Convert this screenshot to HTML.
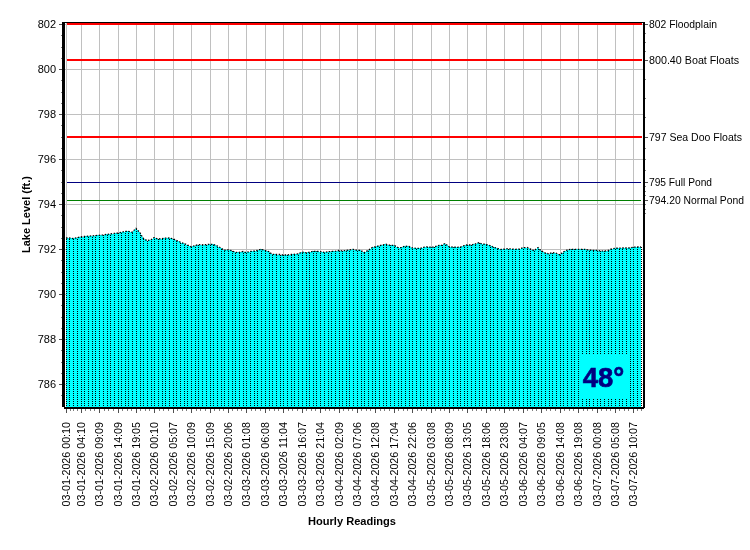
<!DOCTYPE html><html><head><meta charset="utf-8"><title>Lake Level</title>
<style>html,body{margin:0;padding:0;background:#fff}svg{display:block}text{font-family:"Liberation Sans",Arial,sans-serif;font-size:11px;fill:#000}.b{font-weight:bold}</style></head><body>
<svg width="750" height="550" viewBox="0 0 750 550">
<rect width="750" height="550" fill="#fff"/>
<g fill="#c0c0c0" shape-rendering="crispEdges"><rect x="65" y="24" width="578" height="1"/><rect x="65" y="69" width="578" height="1"/><rect x="65" y="114" width="578" height="1"/><rect x="65" y="159" width="578" height="1"/><rect x="65" y="204" width="578" height="1"/><rect x="65" y="249" width="578" height="1"/><rect x="65" y="294" width="578" height="1"/><rect x="65" y="339" width="578" height="1"/><rect x="65" y="384" width="578" height="1"/><rect x="66" y="23" width="1" height="384"/><rect x="81" y="23" width="1" height="384"/><rect x="99" y="23" width="1" height="384"/><rect x="118" y="23" width="1" height="384"/><rect x="136" y="23" width="1" height="384"/><rect x="154" y="23" width="1" height="384"/><rect x="173" y="23" width="1" height="384"/><rect x="191" y="23" width="1" height="384"/><rect x="210" y="23" width="1" height="384"/><rect x="228" y="23" width="1" height="384"/><rect x="246" y="23" width="1" height="384"/><rect x="265" y="23" width="1" height="384"/><rect x="283" y="23" width="1" height="384"/><rect x="302" y="23" width="1" height="384"/><rect x="320" y="23" width="1" height="384"/><rect x="339" y="23" width="1" height="384"/><rect x="357" y="23" width="1" height="384"/><rect x="375" y="23" width="1" height="384"/><rect x="394" y="23" width="1" height="384"/><rect x="412" y="23" width="1" height="384"/><rect x="431" y="23" width="1" height="384"/><rect x="449" y="23" width="1" height="384"/><rect x="467" y="23" width="1" height="384"/><rect x="486" y="23" width="1" height="384"/><rect x="504" y="23" width="1" height="384"/><rect x="523" y="23" width="1" height="384"/><rect x="541" y="23" width="1" height="384"/><rect x="560" y="23" width="1" height="384"/><rect x="578" y="23" width="1" height="384"/><rect x="597" y="23" width="1" height="384"/><rect x="615" y="23" width="1" height="384"/><rect x="633" y="23" width="1" height="384"/></g>
<clipPath id="ac"><polygon points="66,407 66,238.0 69,238.0 73,238.6 77,237.7 81,236.8 84,236.5 88,236.2 92,235.9 95,235.6 99,235.3 103,234.9 107,234.4 110,234.0 114,233.5 118,233.1 121,232.3 125,231.5 128,231.3 132,232.2 136,228.4 140,232.8 143,238.1 147,240.7 151,239.7 154,237.6 158,239.0 162,238.6 165,238.2 169,238.0 173,238.8 176,240.3 180,242.0 184,243.6 187,244.8 191,246.7 195,245.7 198,244.6 202,244.8 206,244.7 210,244.3 213,244.3 217,245.8 221,248.1 224,250.2 228,249.8 232,250.7 235,252.3 239,252.4 243,251.5 246,252.6 250,251.5 254,251.1 257,250.5 261,249.3 265,250.4 269,251.7 272,254.3 276,254.5 280,254.5 283,255.0 287,255.0 291,254.5 294,254.3 298,253.9 302,252.1 306,252.7 309,252.3 313,251.3 316,251.3 320,251.6 324,252.4 328,251.7 331,251.5 335,251.3 339,250.5 342,250.8 346,250.5 349,249.9 353,249.3 357,250.4 361,250.4 364,252.7 368,250.5 372,247.7 375,246.8 379,245.9 383,244.8 386,244.2 390,245.3 394,245.3 398,247.6 401,247.7 405,246.2 409,246.5 412,247.8 416,248.4 420,248.5 423,247.4 427,246.8 431,247.3 434,247.0 438,245.6 442,245.3 445,243.5 449,246.7 453,247.2 457,247.3 460,247.1 464,245.7 467,245.0 471,245.0 475,244.1 479,242.6 482,244.1 486,244.3 490,245.6 493,247.0 497,248.3 501,249.5 504,249.2 508,248.7 512,249.1 515,249.3 519,249.2 523,247.7 527,247.5 530,248.8 534,250.7 538,247.6 541,250.7 545,253.0 549,253.9 552,252.6 556,253.2 560,254.9 563,252.1 567,250.0 571,249.3 574,249.3 578,249.3 582,249.3 586,249.5 589,250.2 593,250.3 597,250.3 600,250.8 604,251.1 608,250.5 611,249.1 615,248.3 619,248.2 622,248.0 626,248.0 630,248.0 633,247.2 637,247.0 641,247.0 642,247.0 642,407"/></clipPath>
<polygon points="66,407 66,238.0 69,238.0 73,238.6 77,237.7 81,236.8 84,236.5 88,236.2 92,235.9 95,235.6 99,235.3 103,234.9 107,234.4 110,234.0 114,233.5 118,233.1 121,232.3 125,231.5 128,231.3 132,232.2 136,228.4 140,232.8 143,238.1 147,240.7 151,239.7 154,237.6 158,239.0 162,238.6 165,238.2 169,238.0 173,238.8 176,240.3 180,242.0 184,243.6 187,244.8 191,246.7 195,245.7 198,244.6 202,244.8 206,244.7 210,244.3 213,244.3 217,245.8 221,248.1 224,250.2 228,249.8 232,250.7 235,252.3 239,252.4 243,251.5 246,252.6 250,251.5 254,251.1 257,250.5 261,249.3 265,250.4 269,251.7 272,254.3 276,254.5 280,254.5 283,255.0 287,255.0 291,254.5 294,254.3 298,253.9 302,252.1 306,252.7 309,252.3 313,251.3 316,251.3 320,251.6 324,252.4 328,251.7 331,251.5 335,251.3 339,250.5 342,250.8 346,250.5 349,249.9 353,249.3 357,250.4 361,250.4 364,252.7 368,250.5 372,247.7 375,246.8 379,245.9 383,244.8 386,244.2 390,245.3 394,245.3 398,247.6 401,247.7 405,246.2 409,246.5 412,247.8 416,248.4 420,248.5 423,247.4 427,246.8 431,247.3 434,247.0 438,245.6 442,245.3 445,243.5 449,246.7 453,247.2 457,247.3 460,247.1 464,245.7 467,245.0 471,245.0 475,244.1 479,242.6 482,244.1 486,244.3 490,245.6 493,247.0 497,248.3 501,249.5 504,249.2 508,248.7 512,249.1 515,249.3 519,249.2 523,247.7 527,247.5 530,248.8 534,250.7 538,247.6 541,250.7 545,253.0 549,253.9 552,252.6 556,253.2 560,254.9 563,252.1 567,250.0 571,249.3 574,249.3 578,249.3 582,249.3 586,249.5 589,250.2 593,250.3 597,250.3 600,250.8 604,251.1 608,250.5 611,249.1 615,248.3 619,248.2 622,248.0 626,248.0 630,248.0 633,247.2 637,247.0 641,247.0 641,407" fill="#00ffff" shape-rendering="crispEdges"/>
<g clip-path="url(#ac)" stroke="#000" stroke-width="1" stroke-dasharray="1 1" shape-rendering="crispEdges"><line x1="66.5" y1="23" x2="66.5" y2="407"/><line x1="69.5" y1="23" x2="69.5" y2="407"/><line x1="73.5" y1="23" x2="73.5" y2="407"/><line x1="77.5" y1="23" x2="77.5" y2="407"/><line x1="81.5" y1="23" x2="81.5" y2="407"/><line x1="84.5" y1="23" x2="84.5" y2="407"/><line x1="88.5" y1="23" x2="88.5" y2="407"/><line x1="92.5" y1="23" x2="92.5" y2="407"/><line x1="95.5" y1="23" x2="95.5" y2="407"/><line x1="99.5" y1="23" x2="99.5" y2="407"/><line x1="103.5" y1="23" x2="103.5" y2="407"/><line x1="107.5" y1="23" x2="107.5" y2="407"/><line x1="110.5" y1="23" x2="110.5" y2="407"/><line x1="114.5" y1="23" x2="114.5" y2="407"/><line x1="118.5" y1="23" x2="118.5" y2="407"/><line x1="121.5" y1="23" x2="121.5" y2="407"/><line x1="125.5" y1="23" x2="125.5" y2="407"/><line x1="128.5" y1="23" x2="128.5" y2="407"/><line x1="132.5" y1="23" x2="132.5" y2="407"/><line x1="136.5" y1="23" x2="136.5" y2="407"/><line x1="140.5" y1="23" x2="140.5" y2="407"/><line x1="143.5" y1="23" x2="143.5" y2="407"/><line x1="147.5" y1="23" x2="147.5" y2="407"/><line x1="151.5" y1="23" x2="151.5" y2="407"/><line x1="154.5" y1="23" x2="154.5" y2="407"/><line x1="158.5" y1="23" x2="158.5" y2="407"/><line x1="162.5" y1="23" x2="162.5" y2="407"/><line x1="165.5" y1="23" x2="165.5" y2="407"/><line x1="169.5" y1="23" x2="169.5" y2="407"/><line x1="173.5" y1="23" x2="173.5" y2="407"/><line x1="176.5" y1="23" x2="176.5" y2="407"/><line x1="180.5" y1="23" x2="180.5" y2="407"/><line x1="184.5" y1="23" x2="184.5" y2="407"/><line x1="187.5" y1="23" x2="187.5" y2="407"/><line x1="191.5" y1="23" x2="191.5" y2="407"/><line x1="195.5" y1="23" x2="195.5" y2="407"/><line x1="198.5" y1="23" x2="198.5" y2="407"/><line x1="202.5" y1="23" x2="202.5" y2="407"/><line x1="206.5" y1="23" x2="206.5" y2="407"/><line x1="210.5" y1="23" x2="210.5" y2="407"/><line x1="213.5" y1="23" x2="213.5" y2="407"/><line x1="217.5" y1="23" x2="217.5" y2="407"/><line x1="221.5" y1="23" x2="221.5" y2="407"/><line x1="224.5" y1="23" x2="224.5" y2="407"/><line x1="228.5" y1="23" x2="228.5" y2="407"/><line x1="232.5" y1="23" x2="232.5" y2="407"/><line x1="235.5" y1="23" x2="235.5" y2="407"/><line x1="239.5" y1="23" x2="239.5" y2="407"/><line x1="243.5" y1="23" x2="243.5" y2="407"/><line x1="246.5" y1="23" x2="246.5" y2="407"/><line x1="250.5" y1="23" x2="250.5" y2="407"/><line x1="254.5" y1="23" x2="254.5" y2="407"/><line x1="257.5" y1="23" x2="257.5" y2="407"/><line x1="261.5" y1="23" x2="261.5" y2="407"/><line x1="265.5" y1="23" x2="265.5" y2="407"/><line x1="269.5" y1="23" x2="269.5" y2="407"/><line x1="272.5" y1="23" x2="272.5" y2="407"/><line x1="276.5" y1="23" x2="276.5" y2="407"/><line x1="280.5" y1="23" x2="280.5" y2="407"/><line x1="283.5" y1="23" x2="283.5" y2="407"/><line x1="287.5" y1="23" x2="287.5" y2="407"/><line x1="291.5" y1="23" x2="291.5" y2="407"/><line x1="294.5" y1="23" x2="294.5" y2="407"/><line x1="298.5" y1="23" x2="298.5" y2="407"/><line x1="302.5" y1="23" x2="302.5" y2="407"/><line x1="306.5" y1="23" x2="306.5" y2="407"/><line x1="309.5" y1="23" x2="309.5" y2="407"/><line x1="313.5" y1="23" x2="313.5" y2="407"/><line x1="316.5" y1="23" x2="316.5" y2="407"/><line x1="320.5" y1="23" x2="320.5" y2="407"/><line x1="324.5" y1="23" x2="324.5" y2="407"/><line x1="328.5" y1="23" x2="328.5" y2="407"/><line x1="331.5" y1="23" x2="331.5" y2="407"/><line x1="335.5" y1="23" x2="335.5" y2="407"/><line x1="339.5" y1="23" x2="339.5" y2="407"/><line x1="342.5" y1="23" x2="342.5" y2="407"/><line x1="346.5" y1="23" x2="346.5" y2="407"/><line x1="349.5" y1="23" x2="349.5" y2="407"/><line x1="353.5" y1="23" x2="353.5" y2="407"/><line x1="357.5" y1="23" x2="357.5" y2="407"/><line x1="361.5" y1="23" x2="361.5" y2="407"/><line x1="364.5" y1="23" x2="364.5" y2="407"/><line x1="368.5" y1="23" x2="368.5" y2="407"/><line x1="372.5" y1="23" x2="372.5" y2="407"/><line x1="375.5" y1="23" x2="375.5" y2="407"/><line x1="379.5" y1="23" x2="379.5" y2="407"/><line x1="383.5" y1="23" x2="383.5" y2="407"/><line x1="386.5" y1="23" x2="386.5" y2="407"/><line x1="390.5" y1="23" x2="390.5" y2="407"/><line x1="394.5" y1="23" x2="394.5" y2="407"/><line x1="398.5" y1="23" x2="398.5" y2="407"/><line x1="401.5" y1="23" x2="401.5" y2="407"/><line x1="405.5" y1="23" x2="405.5" y2="407"/><line x1="409.5" y1="23" x2="409.5" y2="407"/><line x1="412.5" y1="23" x2="412.5" y2="407"/><line x1="416.5" y1="23" x2="416.5" y2="407"/><line x1="420.5" y1="23" x2="420.5" y2="407"/><line x1="423.5" y1="23" x2="423.5" y2="407"/><line x1="427.5" y1="23" x2="427.5" y2="407"/><line x1="431.5" y1="23" x2="431.5" y2="407"/><line x1="434.5" y1="23" x2="434.5" y2="407"/><line x1="438.5" y1="23" x2="438.5" y2="407"/><line x1="442.5" y1="23" x2="442.5" y2="407"/><line x1="445.5" y1="23" x2="445.5" y2="407"/><line x1="449.5" y1="23" x2="449.5" y2="407"/><line x1="453.5" y1="23" x2="453.5" y2="407"/><line x1="457.5" y1="23" x2="457.5" y2="407"/><line x1="460.5" y1="23" x2="460.5" y2="407"/><line x1="464.5" y1="23" x2="464.5" y2="407"/><line x1="467.5" y1="23" x2="467.5" y2="407"/><line x1="471.5" y1="23" x2="471.5" y2="407"/><line x1="475.5" y1="23" x2="475.5" y2="407"/><line x1="479.5" y1="23" x2="479.5" y2="407"/><line x1="482.5" y1="23" x2="482.5" y2="407"/><line x1="486.5" y1="23" x2="486.5" y2="407"/><line x1="490.5" y1="23" x2="490.5" y2="407"/><line x1="493.5" y1="23" x2="493.5" y2="407"/><line x1="497.5" y1="23" x2="497.5" y2="407"/><line x1="501.5" y1="23" x2="501.5" y2="407"/><line x1="504.5" y1="23" x2="504.5" y2="407"/><line x1="508.5" y1="23" x2="508.5" y2="407"/><line x1="512.5" y1="23" x2="512.5" y2="407"/><line x1="515.5" y1="23" x2="515.5" y2="407"/><line x1="519.5" y1="23" x2="519.5" y2="407"/><line x1="523.5" y1="23" x2="523.5" y2="407"/><line x1="527.5" y1="23" x2="527.5" y2="407"/><line x1="530.5" y1="23" x2="530.5" y2="407"/><line x1="534.5" y1="23" x2="534.5" y2="407"/><line x1="538.5" y1="23" x2="538.5" y2="407"/><line x1="541.5" y1="23" x2="541.5" y2="407"/><line x1="545.5" y1="23" x2="545.5" y2="407"/><line x1="549.5" y1="23" x2="549.5" y2="407"/><line x1="552.5" y1="23" x2="552.5" y2="407"/><line x1="556.5" y1="23" x2="556.5" y2="407"/><line x1="560.5" y1="23" x2="560.5" y2="407"/><line x1="563.5" y1="23" x2="563.5" y2="407"/><line x1="567.5" y1="23" x2="567.5" y2="407"/><line x1="571.5" y1="23" x2="571.5" y2="407"/><line x1="574.5" y1="23" x2="574.5" y2="407"/><line x1="578.5" y1="23" x2="578.5" y2="407"/><line x1="582.5" y1="23" x2="582.5" y2="407"/><line x1="586.5" y1="23" x2="586.5" y2="407"/><line x1="589.5" y1="23" x2="589.5" y2="407"/><line x1="593.5" y1="23" x2="593.5" y2="407"/><line x1="597.5" y1="23" x2="597.5" y2="407"/><line x1="600.5" y1="23" x2="600.5" y2="407"/><line x1="604.5" y1="23" x2="604.5" y2="407"/><line x1="608.5" y1="23" x2="608.5" y2="407"/><line x1="611.5" y1="23" x2="611.5" y2="407"/><line x1="615.5" y1="23" x2="615.5" y2="407"/><line x1="619.5" y1="23" x2="619.5" y2="407"/><line x1="622.5" y1="23" x2="622.5" y2="407"/><line x1="626.5" y1="23" x2="626.5" y2="407"/><line x1="630.5" y1="23" x2="630.5" y2="407"/><line x1="633.5" y1="23" x2="633.5" y2="407"/><line x1="637.5" y1="23" x2="637.5" y2="407"/><line x1="641.5" y1="23" x2="641.5" y2="407"/></g>
<polyline points="66,238.0 69,238.0 73,238.6 77,237.7 81,236.8 84,236.5 88,236.2 92,235.9 95,235.6 99,235.3 103,234.9 107,234.4 110,234.0 114,233.5 118,233.1 121,232.3 125,231.5 128,231.3 132,232.2 136,228.4 140,232.8 143,238.1 147,240.7 151,239.7 154,237.6 158,239.0 162,238.6 165,238.2 169,238.0 173,238.8 176,240.3 180,242.0 184,243.6 187,244.8 191,246.7 195,245.7 198,244.6 202,244.8 206,244.7 210,244.3 213,244.3 217,245.8 221,248.1 224,250.2 228,249.8 232,250.7 235,252.3 239,252.4 243,251.5 246,252.6 250,251.5 254,251.1 257,250.5 261,249.3 265,250.4 269,251.7 272,254.3 276,254.5 280,254.5 283,255.0 287,255.0 291,254.5 294,254.3 298,253.9 302,252.1 306,252.7 309,252.3 313,251.3 316,251.3 320,251.6 324,252.4 328,251.7 331,251.5 335,251.3 339,250.5 342,250.8 346,250.5 349,249.9 353,249.3 357,250.4 361,250.4 364,252.7 368,250.5 372,247.7 375,246.8 379,245.9 383,244.8 386,244.2 390,245.3 394,245.3 398,247.6 401,247.7 405,246.2 409,246.5 412,247.8 416,248.4 420,248.5 423,247.4 427,246.8 431,247.3 434,247.0 438,245.6 442,245.3 445,243.5 449,246.7 453,247.2 457,247.3 460,247.1 464,245.7 467,245.0 471,245.0 475,244.1 479,242.6 482,244.1 486,244.3 490,245.6 493,247.0 497,248.3 501,249.5 504,249.2 508,248.7 512,249.1 515,249.3 519,249.2 523,247.7 527,247.5 530,248.8 534,250.7 538,247.6 541,250.7 545,253.0 549,253.9 552,252.6 556,253.2 560,254.9 563,252.1 567,250.0 571,249.3 574,249.3 578,249.3 582,249.3 586,249.5 589,250.2 593,250.3 597,250.3 600,250.8 604,251.1 608,250.5 611,249.1 615,248.3 619,248.2 622,248.0 626,248.0 630,248.0 633,247.2 637,247.0 641,247.0" fill="none" stroke="#000" stroke-width="1.3" stroke-dasharray="1.5 1.5"/>
<g shape-rendering="crispEdges"><rect x="67" y="23" width="575" height="2" fill="#f00"/><rect x="67" y="59" width="575" height="2" fill="#f00"/><rect x="67" y="136" width="575" height="2" fill="#f00"/><rect x="67" y="182" width="574" height="1" fill="#000080"/><rect x="67" y="200" width="574" height="1" fill="#008000"/></g>
<rect x="580" y="354" width="50" height="44" fill="#00ffff" shape-rendering="crispEdges"/>
<text x="582.7" y="386.6" class="b" style="font-size:27.5px;fill:#000080;stroke:#000080;stroke-width:.6" textLength="41.6" lengthAdjust="spacingAndGlyphs">48°</text>
<g fill="#000" shape-rendering="crispEdges"><rect x="62" y="22" width="3" height="385"/><rect x="62" y="22" width="583" height="1"/><rect x="643" y="22" width="2" height="386"/><rect x="64" y="407" width="580" height="2"/></g>
<g fill="#505050" shape-rendering="crispEdges"><rect x="59" y="24" width="3" height="1"/><rect x="59" y="69" width="3" height="1"/><rect x="59" y="114" width="3" height="1"/><rect x="59" y="159" width="3" height="1"/><rect x="59" y="204" width="3" height="1"/><rect x="59" y="249" width="3" height="1"/><rect x="59" y="294" width="3" height="1"/><rect x="59" y="339" width="3" height="1"/><rect x="59" y="384" width="3" height="1"/><rect x="645" y="24" width="3" height="1"/><rect x="645" y="60" width="3" height="1"/><rect x="645" y="137" width="3" height="1"/><rect x="645" y="182" width="3" height="1"/><rect x="645" y="200" width="3" height="1"/><rect x="66" y="409" width="1" height="4"/><rect x="81" y="409" width="1" height="4"/><rect x="99" y="409" width="1" height="4"/><rect x="118" y="409" width="1" height="4"/><rect x="136" y="409" width="1" height="4"/><rect x="154" y="409" width="1" height="4"/><rect x="173" y="409" width="1" height="4"/><rect x="191" y="409" width="1" height="4"/><rect x="210" y="409" width="1" height="4"/><rect x="228" y="409" width="1" height="4"/><rect x="246" y="409" width="1" height="4"/><rect x="265" y="409" width="1" height="4"/><rect x="283" y="409" width="1" height="4"/><rect x="302" y="409" width="1" height="4"/><rect x="320" y="409" width="1" height="4"/><rect x="339" y="409" width="1" height="4"/><rect x="357" y="409" width="1" height="4"/><rect x="375" y="409" width="1" height="4"/><rect x="394" y="409" width="1" height="4"/><rect x="412" y="409" width="1" height="4"/><rect x="431" y="409" width="1" height="4"/><rect x="449" y="409" width="1" height="4"/><rect x="467" y="409" width="1" height="4"/><rect x="486" y="409" width="1" height="4"/><rect x="504" y="409" width="1" height="4"/><rect x="523" y="409" width="1" height="4"/><rect x="541" y="409" width="1" height="4"/><rect x="560" y="409" width="1" height="4"/><rect x="578" y="409" width="1" height="4"/><rect x="597" y="409" width="1" height="4"/><rect x="615" y="409" width="1" height="4"/><rect x="633" y="409" width="1" height="4"/></g>
<g fill="#808080" shape-rendering="crispEdges"><rect x="61" y="35" width="1" height="1"/><rect x="61" y="47" width="1" height="1"/><rect x="61" y="58" width="1" height="1"/><rect x="61" y="80" width="1" height="1"/><rect x="61" y="92" width="1" height="1"/><rect x="61" y="103" width="1" height="1"/><rect x="61" y="125" width="1" height="1"/><rect x="61" y="137" width="1" height="1"/><rect x="61" y="148" width="1" height="1"/><rect x="61" y="170" width="1" height="1"/><rect x="61" y="182" width="1" height="1"/><rect x="61" y="193" width="1" height="1"/><rect x="61" y="215" width="1" height="1"/><rect x="61" y="227" width="1" height="1"/><rect x="61" y="238" width="1" height="1"/><rect x="61" y="260" width="1" height="1"/><rect x="61" y="272" width="1" height="1"/><rect x="61" y="283" width="1" height="1"/><rect x="61" y="305" width="1" height="1"/><rect x="61" y="317" width="1" height="1"/><rect x="61" y="328" width="1" height="1"/><rect x="61" y="350" width="1" height="1"/><rect x="61" y="362" width="1" height="1"/><rect x="61" y="373" width="1" height="1"/><rect x="61" y="395" width="1" height="1"/><rect x="645" y="33" width="1" height="1"/><rect x="645" y="42" width="1" height="1"/><rect x="645" y="51" width="1" height="1"/><rect x="645" y="79" width="1" height="1"/><rect x="645" y="98" width="1" height="1"/><rect x="645" y="117" width="1" height="1"/><rect x="645" y="148" width="1" height="1"/><rect x="645" y="159" width="1" height="1"/><rect x="645" y="170" width="1" height="1"/><rect x="645" y="186" width="1" height="1"/><rect x="645" y="191" width="1" height="1"/><rect x="645" y="195" width="1" height="1"/><rect x="645" y="204" width="1" height="1"/><rect x="645" y="209" width="1" height="1"/><rect x="645" y="213" width="1" height="1"/><rect x="70" y="409" width="1" height="2"/><rect x="73" y="409" width="1" height="2"/><rect x="77" y="409" width="1" height="2"/><rect x="85" y="409" width="1" height="2"/><rect x="90" y="409" width="1" height="2"/><rect x="94" y="409" width="1" height="2"/><rect x="104" y="409" width="1" height="2"/><rect x="108" y="409" width="1" height="2"/><rect x="113" y="409" width="1" height="2"/><rect x="122" y="409" width="1" height="2"/><rect x="127" y="409" width="1" height="2"/><rect x="131" y="409" width="1" height="2"/><rect x="140" y="409" width="1" height="2"/><rect x="145" y="409" width="1" height="2"/><rect x="149" y="409" width="1" height="2"/><rect x="159" y="409" width="1" height="2"/><rect x="163" y="409" width="1" height="2"/><rect x="168" y="409" width="1" height="2"/><rect x="177" y="409" width="1" height="2"/><rect x="182" y="409" width="1" height="2"/><rect x="186" y="409" width="1" height="2"/><rect x="196" y="409" width="1" height="2"/><rect x="200" y="409" width="1" height="2"/><rect x="205" y="409" width="1" height="2"/><rect x="214" y="409" width="1" height="2"/><rect x="219" y="409" width="1" height="2"/><rect x="223" y="409" width="1" height="2"/><rect x="232" y="409" width="1" height="2"/><rect x="237" y="409" width="1" height="2"/><rect x="241" y="409" width="1" height="2"/><rect x="251" y="409" width="1" height="2"/><rect x="255" y="409" width="1" height="2"/><rect x="260" y="409" width="1" height="2"/><rect x="269" y="409" width="1" height="2"/><rect x="274" y="409" width="1" height="2"/><rect x="278" y="409" width="1" height="2"/><rect x="288" y="409" width="1" height="2"/><rect x="292" y="409" width="1" height="2"/><rect x="297" y="409" width="1" height="2"/><rect x="306" y="409" width="1" height="2"/><rect x="311" y="409" width="1" height="2"/><rect x="315" y="409" width="1" height="2"/><rect x="325" y="409" width="1" height="2"/><rect x="329" y="409" width="1" height="2"/><rect x="334" y="409" width="1" height="2"/><rect x="343" y="409" width="1" height="2"/><rect x="348" y="409" width="1" height="2"/><rect x="352" y="409" width="1" height="2"/><rect x="361" y="409" width="1" height="2"/><rect x="366" y="409" width="1" height="2"/><rect x="370" y="409" width="1" height="2"/><rect x="380" y="409" width="1" height="2"/><rect x="384" y="409" width="1" height="2"/><rect x="389" y="409" width="1" height="2"/><rect x="398" y="409" width="1" height="2"/><rect x="403" y="409" width="1" height="2"/><rect x="407" y="409" width="1" height="2"/><rect x="417" y="409" width="1" height="2"/><rect x="421" y="409" width="1" height="2"/><rect x="426" y="409" width="1" height="2"/><rect x="435" y="409" width="1" height="2"/><rect x="440" y="409" width="1" height="2"/><rect x="444" y="409" width="1" height="2"/><rect x="453" y="409" width="1" height="2"/><rect x="458" y="409" width="1" height="2"/><rect x="462" y="409" width="1" height="2"/><rect x="472" y="409" width="1" height="2"/><rect x="476" y="409" width="1" height="2"/><rect x="481" y="409" width="1" height="2"/><rect x="490" y="409" width="1" height="2"/><rect x="495" y="409" width="1" height="2"/><rect x="499" y="409" width="1" height="2"/><rect x="509" y="409" width="1" height="2"/><rect x="513" y="409" width="1" height="2"/><rect x="518" y="409" width="1" height="2"/><rect x="527" y="409" width="1" height="2"/><rect x="532" y="409" width="1" height="2"/><rect x="536" y="409" width="1" height="2"/><rect x="546" y="409" width="1" height="2"/><rect x="550" y="409" width="1" height="2"/><rect x="555" y="409" width="1" height="2"/><rect x="564" y="409" width="1" height="2"/><rect x="569" y="409" width="1" height="2"/><rect x="573" y="409" width="1" height="2"/><rect x="583" y="409" width="1" height="2"/><rect x="587" y="409" width="1" height="2"/><rect x="592" y="409" width="1" height="2"/><rect x="601" y="409" width="1" height="2"/><rect x="606" y="409" width="1" height="2"/><rect x="610" y="409" width="1" height="2"/><rect x="619" y="409" width="1" height="2"/><rect x="624" y="409" width="1" height="2"/><rect x="628" y="409" width="1" height="2"/><rect x="637" y="409" width="1" height="2"/><rect x="641" y="409" width="1" height="2"/></g>
<text x="56" y="28" text-anchor="end">802</text>
<text x="56" y="73" text-anchor="end">800</text>
<text x="56" y="118" text-anchor="end">798</text>
<text x="56" y="163" text-anchor="end">796</text>
<text x="56" y="208" text-anchor="end">794</text>
<text x="56" y="253" text-anchor="end">792</text>
<text x="56" y="298" text-anchor="end">790</text>
<text x="56" y="343" text-anchor="end">788</text>
<text x="56" y="388" text-anchor="end">786</text>
<text x="649" y="28" textLength="68" lengthAdjust="spacingAndGlyphs">802 Floodplain</text>
<text x="649" y="64" textLength="90" lengthAdjust="spacingAndGlyphs">800.40 Boat Floats</text>
<text x="649" y="141" textLength="93" lengthAdjust="spacingAndGlyphs">797 Sea Doo Floats</text>
<text x="649" y="186" textLength="63" lengthAdjust="spacingAndGlyphs">795 Full Pond</text>
<text x="649" y="204" textLength="95" lengthAdjust="spacingAndGlyphs">794.20 Normal Pond</text>
<text transform="translate(70,506.5) rotate(-90)" textLength="84.5" lengthAdjust="spacingAndGlyphs">03-01-2026 00:10</text>
<text transform="translate(85,506.5) rotate(-90)" textLength="84.5" lengthAdjust="spacingAndGlyphs">03-01-2026 04:10</text>
<text transform="translate(103,506.5) rotate(-90)" textLength="84.5" lengthAdjust="spacingAndGlyphs">03-01-2026 09:09</text>
<text transform="translate(122,506.5) rotate(-90)" textLength="84.5" lengthAdjust="spacingAndGlyphs">03-01-2026 14:09</text>
<text transform="translate(140,506.5) rotate(-90)" textLength="84.5" lengthAdjust="spacingAndGlyphs">03-01-2026 19:05</text>
<text transform="translate(158,506.5) rotate(-90)" textLength="84.5" lengthAdjust="spacingAndGlyphs">03-02-2026 00:10</text>
<text transform="translate(177,506.5) rotate(-90)" textLength="84.5" lengthAdjust="spacingAndGlyphs">03-02-2026 05:07</text>
<text transform="translate(195,506.5) rotate(-90)" textLength="84.5" lengthAdjust="spacingAndGlyphs">03-02-2026 10:09</text>
<text transform="translate(214,506.5) rotate(-90)" textLength="84.5" lengthAdjust="spacingAndGlyphs">03-02-2026 15:09</text>
<text transform="translate(232,506.5) rotate(-90)" textLength="84.5" lengthAdjust="spacingAndGlyphs">03-02-2026 20:06</text>
<text transform="translate(250,506.5) rotate(-90)" textLength="84.5" lengthAdjust="spacingAndGlyphs">03-03-2026 01:08</text>
<text transform="translate(269,506.5) rotate(-90)" textLength="84.5" lengthAdjust="spacingAndGlyphs">03-03-2026 06:08</text>
<text transform="translate(287,506.5) rotate(-90)" textLength="84.5" lengthAdjust="spacingAndGlyphs">03-03-2026 11:04</text>
<text transform="translate(306,506.5) rotate(-90)" textLength="84.5" lengthAdjust="spacingAndGlyphs">03-03-2026 16:07</text>
<text transform="translate(324,506.5) rotate(-90)" textLength="84.5" lengthAdjust="spacingAndGlyphs">03-03-2026 21:04</text>
<text transform="translate(343,506.5) rotate(-90)" textLength="84.5" lengthAdjust="spacingAndGlyphs">03-04-2026 02:09</text>
<text transform="translate(361,506.5) rotate(-90)" textLength="84.5" lengthAdjust="spacingAndGlyphs">03-04-2026 07:06</text>
<text transform="translate(379,506.5) rotate(-90)" textLength="84.5" lengthAdjust="spacingAndGlyphs">03-04-2026 12:08</text>
<text transform="translate(398,506.5) rotate(-90)" textLength="84.5" lengthAdjust="spacingAndGlyphs">03-04-2026 17:04</text>
<text transform="translate(416,506.5) rotate(-90)" textLength="84.5" lengthAdjust="spacingAndGlyphs">03-04-2026 22:06</text>
<text transform="translate(435,506.5) rotate(-90)" textLength="84.5" lengthAdjust="spacingAndGlyphs">03-05-2026 03:08</text>
<text transform="translate(453,506.5) rotate(-90)" textLength="84.5" lengthAdjust="spacingAndGlyphs">03-05-2026 08:09</text>
<text transform="translate(471,506.5) rotate(-90)" textLength="84.5" lengthAdjust="spacingAndGlyphs">03-05-2026 13:05</text>
<text transform="translate(490,506.5) rotate(-90)" textLength="84.5" lengthAdjust="spacingAndGlyphs">03-05-2026 18:06</text>
<text transform="translate(508,506.5) rotate(-90)" textLength="84.5" lengthAdjust="spacingAndGlyphs">03-05-2026 23:08</text>
<text transform="translate(527,506.5) rotate(-90)" textLength="84.5" lengthAdjust="spacingAndGlyphs">03-06-2026 04:07</text>
<text transform="translate(545,506.5) rotate(-90)" textLength="84.5" lengthAdjust="spacingAndGlyphs">03-06-2026 09:05</text>
<text transform="translate(564,506.5) rotate(-90)" textLength="84.5" lengthAdjust="spacingAndGlyphs">03-06-2026 14:08</text>
<text transform="translate(582,506.5) rotate(-90)" textLength="84.5" lengthAdjust="spacingAndGlyphs">03-06-2026 19:08</text>
<text transform="translate(601,506.5) rotate(-90)" textLength="84.5" lengthAdjust="spacingAndGlyphs">03-07-2026 00:08</text>
<text transform="translate(619,506.5) rotate(-90)" textLength="84.5" lengthAdjust="spacingAndGlyphs">03-07-2026 05:08</text>
<text transform="translate(637,506.5) rotate(-90)" textLength="84.5" lengthAdjust="spacingAndGlyphs">03-07-2026 10:07</text>
<text class="b" x="352" y="525" text-anchor="middle" textLength="88" lengthAdjust="spacingAndGlyphs">Hourly Readings</text>
<text class="b" transform="translate(30,214.5) rotate(-90)" text-anchor="middle" textLength="77" lengthAdjust="spacingAndGlyphs">Lake Level (ft.)</text>
</svg></body></html>
